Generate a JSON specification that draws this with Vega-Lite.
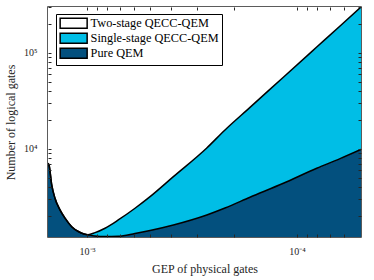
{
  "$schema": "https://vega.github.io/schema/vega-lite/v6.json",
  "width": 313,
  "height": 230,
  "autosize": "none",
  "padding": {"left": 48, "top": 7, "right": 13, "bottom": 43},
  "config": {
    "font": "Liberation Serif",
    "view": {"stroke": "#262626", "strokeWidth": 1.5},
    "axis": {
      "grid": false,
      "domain": false,
      "ticks": true,
      "tickColor": "#262626",
      "labelColor": "#262626",
      "titleColor": "#262626",
      "labelFont": "Liberation Serif",
      "titleFont": "Liberation Serif",
      "titleFontWeight": "normal",
      "labelFontSize": 10,
      "titleFontSize": 12,
      "tickWidth": 1,
      "tickSize": 3,
      "offset": -3,
      "labelOverlap": false,
      "labelFlush": false
    }
  },
  "data": {
    "values": [
      {"p": 0.001534, "lo": 7100, "up": 7100},
      {"p": 0.001517, "lo": 6800, "up": 6800},
      {"p": 0.001472, "lo": 4200, "up": 4200},
      {"p": 0.001421, "lo": 3070, "up": 3070},
      {"p": 0.001345, "lo": 2320, "up": 2320},
      {"p": 0.001273, "lo": 1900, "up": 1900},
      {"p": 0.001183, "lo": 1550, "up": 1550},
      {"p": 0.0011, "lo": 1380, "up": 1380},
      {"p": 0.001033, "lo": 1300, "up": 1300},
      {"p": 0.000989, "lo": 1275, "up": 1280},
      {"p": 0.000916, "lo": 1241, "up": 1343},
      {"p": 0.000821, "lo": 1226, "up": 1493},
      {"p": 0.00071, "lo": 1232, "up": 1821},
      {"p": 0.000591, "lo": 1318, "up": 2412},
      {"p": 0.000501, "lo": 1416, "up": 3186},
      {"p": 0.000388, "lo": 1616, "up": 5147},
      {"p": 0.000269, "lo": 2054, "up": 10240},
      {"p": 0.0002203, "lo": 2426, "up": 15780},
      {"p": 0.0001675, "lo": 3140, "up": 27100},
      {"p": 0.0001162, "lo": 4391, "up": 55900},
      {"p": 0.0000806, "lo": 6296, "up": 115200},
      {"p": 0.0000624, "lo": 7925, "up": 191000},
      {"p": 0.0000496, "lo": 9880, "up": 301300}
    ]
  },
  "resolve": {"axis": {"x": "independent", "y": "independent"}},
  "layer": [
    {
      "mark": {"type": "area", "clip": true, "interpolate": "monotone"},
      "encoding": {
        "x": {"field": "p", "type": "quantitative", "scale": {"type": "log", "domain": [0.0000496, 0.001534], "reverse": true, "nice": false}, "axis": null},
        "y": {"field": "lo", "type": "quantitative", "scale": {"type": "log", "domain": [1210, 301000], "nice": false}, "axis": null},
        "y2": {"datum": 1000},
        "fill": {
          "datum": "Pure QEM",
          "type": "nominal",
          "scale": {"domain": ["Two-stage QECC-QEM", "Single-stage QECC-QEM", "Pure QEM"], "range": ["#ffffff", "#00BEE6", "#03507E"]},
          "legend": {
            "orient": "none",
            "legendX": 8,
            "legendY": 7,
            "title": null,
            "symbolType": "M-1,-1H4.4V1H-1Z",
            "symbolSize": 100,
            "symbolStrokeColor": "black",
            "symbolStrokeWidth": 1.5,
            "symbolOpacity": 1,
            "labelFont": "Liberation Serif",
            "labelFontSize": 12.3,
            "labelColor": "black",
            "labelOffset": 19.3,
            "padding": 3,
            "rowPadding": -2.7,
            "strokeColor": "black",
            "fillColor": "white",
            "cornerRadius": 0,
            "zindex": 3
          }
        }
      }
    },
    {
      "mark": {"type": "area", "clip": true, "interpolate": "monotone"},
      "encoding": {
        "x": {"field": "p", "type": "quantitative", "axis": null},
        "y": {"field": "up", "type": "quantitative", "axis": null},
        "y2": {"field": "lo"},
        "fill": {"datum": "Single-stage QECC-QEM", "type": "nominal"}
      }
    },
    {
      "mark": {"type": "area", "clip": true, "interpolate": "monotone"},
      "encoding": {
        "x": {"field": "p", "type": "quantitative", "axis": null},
        "y": {"field": "up", "type": "quantitative", "axis": null},
        "y2": {"datum": 1000000},
        "fill": {"datum": "Two-stage QECC-QEM", "type": "nominal"}
      }
    },
    {
      "mark": {"type": "line", "clip": true, "color": "black", "strokeWidth": 1.5, "interpolate": "monotone"},
      "encoding": {
        "x": {
          "field": "p", "type": "quantitative",
          "axis": {
            "orient": "bottom",
            "zindex": 2,
            "values": [0.001, 0.0009, 0.0008, 0.0007, 0.0006, 0.0005, 0.0004, 0.0003, 0.0002, 0.0001, 0.00009, 0.00008, 0.00007, 0.00006],
            "labelExpr": "datum.value > 0.00099 && datum.value < 0.00101 ? '10⁻³' : (datum.value > 0.000099 && datum.value < 0.000101 ? '10⁻⁴' : '')",
            "title": "GEP of physical gates",
            "labelPadding": 9,
            "titlePadding": 7
          }
        },
        "y": {
          "field": "up", "type": "quantitative",
          "axis": {
            "orient": "left",
            "zindex": 2,
            "values": [2000, 3000, 4000, 5000, 6000, 7000, 8000, 9000, 10000, 20000, 30000, 40000, 50000, 60000, 70000, 80000, 90000, 100000, 200000, 300000],
            "labelExpr": "datum.value == 10000 ? '10⁴' : (datum.value == 100000 ? '10⁵' : '')",
            "title": "Number of logical gates",
            "labelPadding": 11,
            "titlePadding": 6
          }
        }
      }
    },
    {
      "mark": {"type": "line", "clip": true, "color": "black", "strokeWidth": 1.5, "interpolate": "monotone"},
      "encoding": {
        "x": {
          "field": "p", "type": "quantitative",
          "axis": {
            "orient": "top",
            "zindex": 2,
            "values": [0.001, 0.0009, 0.0008, 0.0007, 0.0006, 0.0005, 0.0004, 0.0003, 0.0002, 0.0001, 0.00009, 0.00008, 0.00007, 0.00006],
            "labels": false,
            "title": null
          }
        },
        "y": {
          "field": "lo", "type": "quantitative",
          "axis": {
            "orient": "right",
            "zindex": 2,
            "values": [2000, 3000, 4000, 5000, 6000, 7000, 8000, 9000, 10000, 20000, 30000, 40000, 50000, 60000, 70000, 80000, 90000, 100000, 200000, 300000],
            "labels": false,
            "title": null
          }
        }
      }
    }
  ]
}
